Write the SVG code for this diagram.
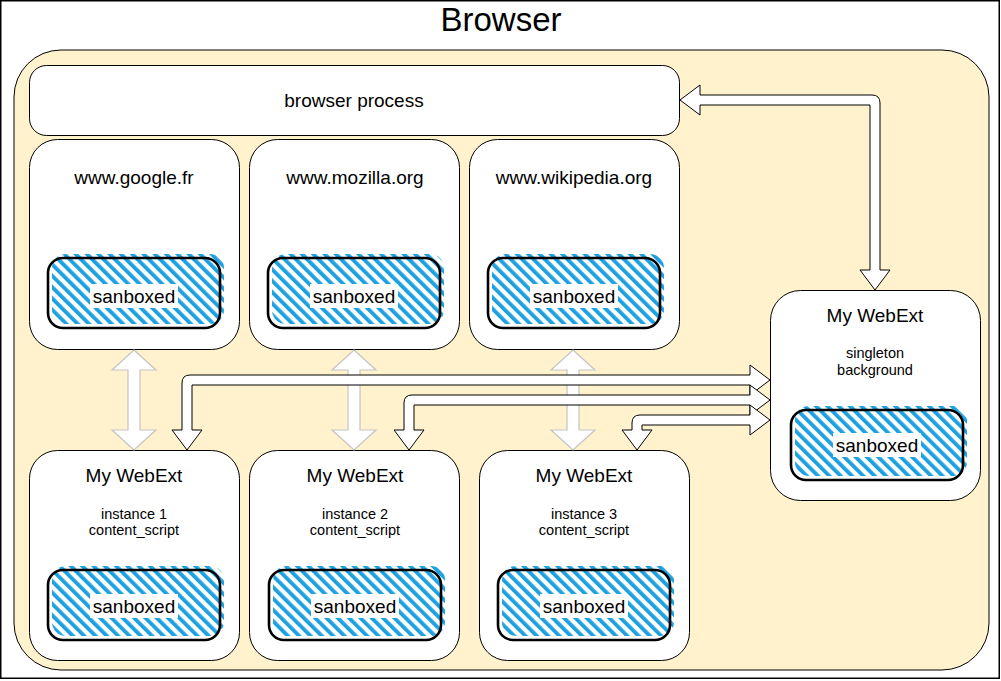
<svg xmlns="http://www.w3.org/2000/svg" width="1001" height="681" viewBox="0 0 1001 681">
<defs>
<pattern id="hatch" patternUnits="userSpaceOnUse" width="8" height="8" patternTransform="rotate(-45)">
<rect x="0" y="0" width="3.8" height="8" fill="#1ba1e2"/>
</pattern>
<style>
.frame{fill:#fff;stroke:#000;stroke-width:1.5}
.area{fill:#fff2cc;stroke:#000;stroke-width:1}
.box{fill:#fff;stroke:#000;stroke-width:1}
.sbx{fill:none;stroke:#000;stroke-width:2.6}
.hat{fill:url(#hatch)}
.lbl{fill:#fff}
.t{font-family:"Liberation Sans",Arial,sans-serif;fill:#000;text-anchor:middle}
.t33{font-size:33px}
.t19{font-size:19px}
.t14{font-size:14.5px}
.ga{fill:#fff;stroke:#c4c4c4;stroke-width:1.2}
.ba{fill:#fff;stroke:#000;stroke-width:1}
</style>
</defs>
<rect class="frame" x="0.75" y="0.75" width="998.5" height="677.5"/>
<text class="t t33" x="501" y="31">Browser</text>
<g id="browser-area">
<rect class="area" x="14" y="50" width="975" height="620" rx="47" ry="47"/>
</g>
<g id="browser-process">
<rect class="box" x="29.5" y="65.5" width="650" height="70" rx="17" ry="17"/>
<text class="t t19" x="354" y="107">browser process</text>
</g>
<g id="site-google">
<rect class="box" x="29.5" y="139.5" width="210" height="210" rx="28" ry="28"/>
<text class="t t19" x="134" y="184">www.google.fr</text>
<rect class="hat" x="52" y="254" width="172" height="70" rx="14"/>
<rect class="sbx" x="48" y="258" width="172" height="70" rx="15"/>
<rect class="lbl" x="90" y="284" width="88" height="24"/>
<text class="t t19" x="134" y="303">sanboxed</text>
</g>
<g id="site-mozilla">
<rect class="box" x="249.5" y="139.5" width="210" height="210" rx="28" ry="28"/>
<text class="t t19" x="355" y="184">www.mozilla.org</text>
<rect class="hat" x="272" y="254" width="172" height="70" rx="14"/>
<rect class="sbx" x="268" y="258" width="172" height="70" rx="15"/>
<rect class="lbl" x="310" y="284" width="88" height="24"/>
<text class="t t19" x="354" y="303">sanboxed</text>
</g>
<g id="site-wikipedia">
<rect class="box" x="469.5" y="139.5" width="210" height="210" rx="28" ry="28"/>
<text class="t t19" x="574" y="184">www.wikipedia.org</text>
<rect class="hat" x="492" y="254" width="172" height="70" rx="14"/>
<rect class="sbx" x="488" y="258" width="172" height="70" rx="15"/>
<rect class="lbl" x="530" y="284" width="88" height="24"/>
<text class="t t19" x="574" y="303">sanboxed</text>
</g>
<g id="instance-1">
<rect class="box" x="29.5" y="450.5" width="210" height="210" rx="28" ry="28"/>
<text class="t t19" x="134" y="482">My WebExt</text>
<text class="t t14" x="134" y="519">instance 1</text>
<text class="t t14" x="134" y="535">content_script</text>
<rect class="hat" x="52" y="566" width="172" height="70" rx="14"/>
<rect class="sbx" x="48" y="570" width="172" height="70" rx="15"/>
<rect class="lbl" x="90" y="594" width="88" height="24"/>
<text class="t t19" x="134" y="613">sanboxed</text>
</g>
<g id="instance-2">
<rect class="box" x="249.5" y="450.5" width="210" height="210" rx="28" ry="28"/>
<text class="t t19" x="355" y="482">My WebExt</text>
<text class="t t14" x="355" y="519">instance 2</text>
<text class="t t14" x="355" y="535">content_script</text>
<rect class="hat" x="273" y="566" width="172" height="70" rx="14"/>
<rect class="sbx" x="269" y="570" width="172" height="70" rx="15"/>
<rect class="lbl" x="311" y="594" width="88" height="24"/>
<text class="t t19" x="355" y="613">sanboxed</text>
</g>
<g id="instance-3">
<rect class="box" x="479.5" y="450.5" width="210" height="210" rx="28" ry="28"/>
<text class="t t19" x="584" y="482">My WebExt</text>
<text class="t t14" x="584" y="519">instance 3</text>
<text class="t t14" x="584" y="535">content_script</text>
<rect class="hat" x="502" y="566" width="172" height="70" rx="14"/>
<rect class="sbx" x="498" y="570" width="172" height="70" rx="15"/>
<rect class="lbl" x="540" y="594" width="88" height="24"/>
<text class="t t19" x="584" y="613">sanboxed</text>
</g>
<g id="singleton">
<rect class="box" x="770.5" y="290.5" width="210" height="210" rx="30" ry="30"/>
<text class="t t19" x="875" y="322">My WebExt</text>
<text class="t t14" x="875" y="358">singleton</text>
<text class="t t14" x="875" y="375">background</text>
<rect class="hat" x="795" y="406" width="172" height="70" rx="14"/>
<rect class="sbx" x="791" y="410" width="172" height="70" rx="15"/>
<rect class="lbl" x="833" y="433" width="88" height="24"/>
<text class="t t19" x="877" y="452">sanboxed</text>
</g>
<g id="connectors">
<path class="ga" d="M134,350 L156,370 L140,370 L140,430 L156,430 L134,450 L112,430 L128,430 L128,370 L112,370 Z"/>
<path class="ga" d="M354,350 L376,370 L360,370 L360,430 L376,430 L354,450 L332,430 L348,430 L348,370 L332,370 Z"/>
<path class="ga" d="M573,350 L595,370 L579,370 L579,430 L595,430 L573,450 L551,430 L567,430 L567,370 L551,370 Z"/>
<path class="ba" d="M680,100 L700,85 L700,95 L872,95 Q880,95 880,103 L880,270 L890,270 L875,290 L860,270 L870,270 L870,105 L700,105 L700,115 Z"/>
<path class="ba" d="M770,380 L750,365 L750,375 L190,375 Q182,375 182,383 L182,430 L172,430 L187,450 L202,430 L192,430 L192,385 L750,385 L750,395 Z"/>
<path class="ba" d="M770,400 L750,385 L750,395 L412,395 Q404,395 404,403 L404,430 L394,430 L409,450 L424,430 L414,430 L414,405 L750,405 L750,415 Z"/>
<path class="ba" d="M770,420 L750,405 L750,415 L640,415 Q632,415 632,423 L632,430 L622,430 L637,450 L652,430 L642,430 L642,425 L750,425 L750,435 Z"/>
</g>
</svg>
